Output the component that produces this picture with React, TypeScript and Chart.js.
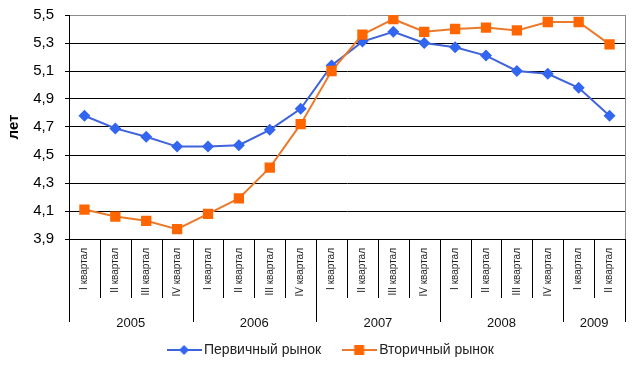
import React, { useEffect, useRef } from 'react';
import { Chart, registerables } from 'chart.js';

Chart.register(...registerables);

const quarters = [
  'I квартал', 'II квартал', 'III квартал', 'IV квартал',
  'I квартал', 'II квартал', 'III квартал', 'IV квартал',
  'I квартал', 'II квартал', 'III квартал', 'IV квартал',
  'I квартал', 'II квартал', 'III квартал', 'IV квартал',
  'I квартал', 'II квартал',
];
const years = ['2005', '2006', '2007', '2008', '2009'];
const quartersPerYear = [4, 4, 4, 4, 2];
const primary = [4.78, 4.69, 4.63, 4.56, 4.56, 4.57, 4.68, 4.83, 5.14, 5.31, 5.38, 5.30, 5.27, 5.21, 5.10, 5.08, 4.98, 4.78];
const secondary = [4.11, 4.06, 4.03, 3.97, 4.08, 4.19, 4.41, 4.72, 5.10, 5.36, 5.47, 5.38, 5.40, 5.41, 5.39, 5.45, 5.45, 5.29];
const yTicks = [3.9, 4.1, 4.3, 4.5, 4.7, 4.9, 5.1, 5.3, 5.5];
const seriesNames = ['Первичный рынок', 'Вторичный рынок'];

const FONT = '"Liberation Sans", Arial, sans-serif';
const BLUE_LINE = '#3F63DB';
const BLUE_PT = '#3366F0';
const ORANGE_LINE = '#EC7A2C';
const ORANGE_PT = '#FF6600';

function makeLegendIcon(kind: 'diamond' | 'square', line: string, fill: string) {
  const c = document.createElement('canvas');
  c.width = 35;
  c.height = 14;
  const g = c.getContext('2d')!;
  g.strokeStyle = line;
  g.lineWidth = 2;
  g.beginPath();
  g.moveTo(0, 7);
  g.lineTo(35, 7);
  g.stroke();
  g.fillStyle = fill;
  g.beginPath();
  if (kind === 'diamond') {
    g.moveTo(17.5, 2);
    g.lineTo(22.5, 7);
    g.lineTo(17.5, 12);
    g.lineTo(12.5, 7);
    g.closePath();
  } else {
    g.rect(12.5, 2, 10, 10);
  }
  g.fill();
  return c;
}

const groupPlugin = {
  id: 'groupAxis',
  afterLayout(chart: any) {
    const l = chart.legend;
    if (l) {
      l.left += 20;
      l.right += 20;
    }
  },
  afterDraw(chart: any) {
    const x = chart.scales.x;
    const { ctx, chartArea } = chart;
    const n = quarters.length;
    const edge = (i: number) =>
      i === 0 ? chartArea.left : i === n ? chartArea.right : (x.getPixelForValue(i - 1) + x.getPixelForValue(i)) / 2;
    const b = chartArea.bottom;
    ctx.save();
    ctx.strokeStyle = '#8a8a8a';
    ctx.lineWidth = 1;
    ctx.beginPath();
    ctx.moveTo(Math.round(chartArea.right) + 0.5, chartArea.top);
    ctx.lineTo(Math.round(chartArea.right) + 0.5, b);
    ctx.stroke();
    ctx.strokeStyle = '#000';
    ctx.beginPath();
    for (let i = 0; i <= n; i++) {
      const px = Math.round(edge(i)) + 0.5;
      ctx.moveTo(px, b);
      ctx.lineTo(px, b + 59);
    }
    ctx.stroke();
    let start = 0;
    ctx.fillStyle = '#111';
    ctx.font = `13px ${FONT}`;
    ctx.textAlign = 'center';
    ctx.textBaseline = 'middle';
    ctx.beginPath();
    years.forEach((yr, k) => {
      const end = start + quartersPerYear[k];
      const l = edge(start);
      const r = edge(end);
      if (k === 0) {
        ctx.moveTo(Math.round(l) + 0.5, b);
        ctx.lineTo(Math.round(l) + 0.5, b + 83);
      }
      ctx.moveTo(Math.round(r) + 0.5, b);
      ctx.lineTo(Math.round(r) + 0.5, b + 83);
      ctx.fillText(yr, (l + r) / 2, b + 84);
      start = end;
    });
    ctx.stroke();
    ctx.restore();
  },
};

export default function App() {
  const ref = useRef<HTMLCanvasElement>(null);
  useEffect(() => {
    if (!ref.current) return;
    const icons = [
      makeLegendIcon('diamond', BLUE_LINE, BLUE_PT),
      makeLegendIcon('square', ORANGE_LINE, ORANGE_PT),
    ];
    const chart = new Chart(ref.current, {
      type: 'line',
      data: {
        labels: quarters,
        datasets: [
          {
            label: seriesNames[0],
            data: primary,
            borderColor: BLUE_LINE,
            backgroundColor: BLUE_PT,
            borderWidth: 2,
            pointStyle: 'rectRot',
            pointRadius: 6,
            pointBackgroundColor: BLUE_PT,
            pointBorderColor: BLUE_PT,
            pointBorderWidth: 0,
            tension: 0,
            order: 1,
          },
          {
            label: seriesNames[1],
            data: secondary,
            borderColor: ORANGE_LINE,
            backgroundColor: ORANGE_PT,
            borderWidth: 2,
            pointStyle: 'rect',
            pointRadius: 7.3,
            pointBackgroundColor: ORANGE_PT,
            pointBorderColor: ORANGE_PT,
            pointBorderWidth: 0,
            tension: 0,
            order: 0,
          },
        ],
      },
      options: {
        animation: false,
        responsive: true,
        maintainAspectRatio: false,
        layout: { padding: { top: 15, right: 9, bottom: 1, left: 0 } },
        plugins: {
          tooltip: { enabled: false },
          legend: {
            position: 'bottom',
            labels: {
              usePointStyle: true,
              pointStyleWidth: 26,
              padding: 25,
              color: '#222',
              font: { family: FONT, size: 14 },
              sort: (a: any, b: any) => a.datasetIndex - b.datasetIndex,
              generateLabels: (c: any) => {
                const items = Chart.defaults.plugins.legend.labels.generateLabels(c);
                return items.map((it: any) => ({ ...it, pointStyle: icons[it.datasetIndex] }));
              },
            },
          },
        },
        scales: {
          x: {
            type: 'category',
            offset: true,
            afterFit: (s: any) => {
              s.height = 79;
            },
            grid: { display: true, drawOnChartArea: false, drawTicks: false },
            border: { display: true, color: '#000', width: 1 },
            ticks: {
              autoSkip: false,
              minRotation: 90,
              maxRotation: 90,
              padding: 9,
              color: '#222',
              font: { family: FONT, size: 10 },
            },
          },
          y: {
            min: 3.9,
            max: 5.5,
            afterFit: (s: any) => {
              s.width = 69;
              s.paddingTop = 0;
              s.paddingBottom = 0;
            },
            afterBuildTicks: (s: any) => {
              s.ticks = yTicks.map((v) => ({ value: v }));
            },
            grid: {
              color: (c: any) => (Math.abs(c.tick.value - 5.5) < 1e-6 ? '#8a8a8a' : '#000'),
              tickLength: 4,
              tickColor: '#000',
              lineWidth: 1,
            },
            border: { display: true, color: '#000', width: 1 },
            ticks: {
              padding: 11,
              color: '#000',
              font: { family: FONT, size: 15 },
              callback: (v: any) => Number(v).toFixed(1).replace('.', ','),
            },
            title: {
              display: true,
              text: 'лет',
              color: '#000',
              font: { family: FONT, size: 15, weight: 'bold' },
              padding: { top: 5, bottom: 0 },
            },
          },
        },
      },
      plugins: [groupPlugin],
    });
    return () => chart.destroy();
  }, []);
  return (
    <div style={{ position: 'absolute', left: 0, top: 0, width: 634, height: 368 }}>
      <canvas ref={ref} />
    </div>
  );
}
